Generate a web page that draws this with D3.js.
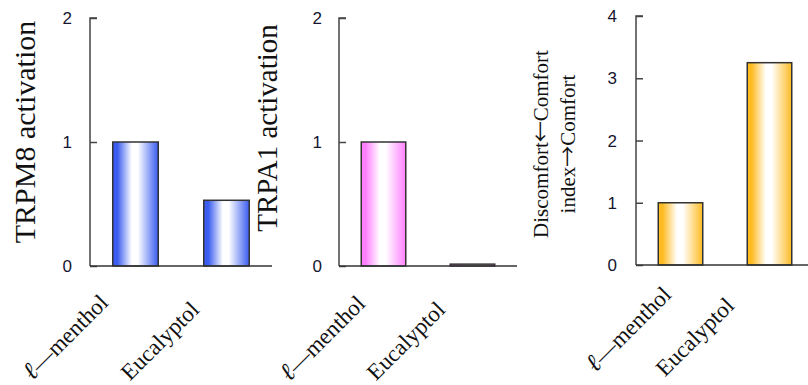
<!DOCTYPE html>
<html><head><meta charset="utf-8">
<script src="https://cdn.jsdelivr.net/npm/d3@7"></script>
<style>body{margin:0;background:#fff}svg{display:block}</style>
</head><body>
<svg id="chart" width="808" height="385"></svg>
<script>
const categories = ["ℓ—menthol", "Eucalyptol"];
const trpm8Values = [1, 0.53];
const trpa1Values = [1, 0.015];
const comfortValues = [1, 3.25];
const ticksActivation = [0, 1, 2];
const ticksComfort = [0, 1, 2, 3, 4];
const yTitles = [["TRPM8 activation"], ["TRPA1 activation"], ["Discomfort←Comfort", "index→Comfort"]];

const svg = d3.select("#chart");
const defs = svg.append("defs");

const panels = [
  {values: trpm8Values, ticks: ticksActivation, max: 2, x0: 90, x1: 272, line1: 272, y0: 266, y1: 18,
   color: "#3a5cf0", title: yTitles[0], titleSize: 30, titleX: [35], titleY: 132, tickOff: 18,
   labelDx: [-26, -26], labelY: [304, 311]},
  {values: trpa1Values, ticks: ticksActivation, max: 2, x0: 339, x1: 517, line1: 517, y0: 266, y1: 18,
   color: "#ff80ff", title: yTitles[1], titleSize: 29, titleX: [277], titleY: 128, tickOff: 17,
   labelDx: [-17, -26], labelY: [305, 311]},
  {values: comfortValues, ticks: ticksComfort, max: 4, x0: 636, x1: 814, line1: 808, y0: 265, y1: 16,
   color: "#ffbb22", title: yTitles[2], titleSize: 21, titleX: [548, 575], titleY: 144, tickOff: 19,
   labelDx: [-8, -34], labelY: [296, 307]}
];

const serif = "Liberation Serif, Times New Roman, serif";

function addRich(sel, text) {
  const parts = text.split(/([←→ℓ])/).filter(s => s.length);
  parts.forEach(s => {
    const t = sel.append("tspan").text(s);
    if (s === "←" || s === "→") t.attr("font-family", "Noto Sans CJK JP");
    if (s === "ℓ") t.attr("font-family", "DejaVu Serif").attr("font-style", "italic").attr("font-size", 25);
  });
}

panels.forEach((p, i) => {
  const gid = "grad" + i;
  const g = defs.append("linearGradient").attr("id", gid).attr("x1", "0%").attr("x2", "100%").attr("y1", "0%").attr("y2", "0%");
  g.append("stop").attr("offset", "0%").attr("stop-color", p.color);
  g.append("stop").attr("offset", "10%").attr("stop-color", p.color);
  g.append("stop").attr("offset", "42%").attr("stop-color", "#ffffff");
  g.append("stop").attr("offset", "55%").attr("stop-color", "#ffffff");
  g.append("stop").attr("offset", "100%").attr("stop-color", p.color);

  const x = d3.scaleBand().domain(categories).range([p.x0, p.x1]).paddingInner(0.5).paddingOuter(0.25);
  const y = d3.scaleLinear().domain([0, p.max]).range([p.y0, p.y1]);

  svg.append("g").selectAll("rect").data(categories).join("rect")
    .attr("x", d => x(d))
    .attr("width", x.bandwidth())
    .attr("y", (d, j) => y(p.values[j]))
    .attr("height", (d, j) => y(0) - y(p.values[j]))
    .attr("fill", `url(#${gid})`)
    .attr("stroke", "#333")
    .attr("stroke-width", 1.5);

  const yAxis = d3.axisRight(y).tickValues(p.ticks).tickSize(7).tickFormat("");
  const ga = svg.append("g").attr("transform", `translate(${p.x0},0)`).call(yAxis);
  ga.select(".domain").attr("d", `M7,${p.y1}H0V${p.y0}`).attr("stroke", "#444").attr("stroke-width", 1.5);
  ga.selectAll(".tick line").attr("stroke", "#444").attr("stroke-width", 1.5);

  svg.append("g").selectAll("text").data(p.ticks).join("text")
    .attr("x", p.x0 - p.tickOff)
    .attr("y", d => y(d))
    .attr("dy", "0.36em")
    .attr("text-anchor", "end")
    .attr("font-family", "Liberation Sans, Arial, sans-serif")
    .attr("font-size", 17)
    .attr("fill", "#151530")
    .text(d => d);

  svg.append("line").attr("x1", p.x0).attr("x2", p.line1).attr("y1", y(0)).attr("y2", y(0))
    .attr("stroke", "#333").attr("stroke-width", 1.5);

  svg.append("g").selectAll("text").data(categories).join("text")
    .attr("transform", (d, j) => `translate(${x(d) + x.bandwidth() / 2 + p.labelDx[j]},${p.labelY[j]}) rotate(-45)`)
    .attr("text-anchor", "end")
    .attr("font-family", serif)
    .attr("font-size", 23)
    .attr("fill", "#111")
    .each(function(d) { addRich(d3.select(this), d); });

  p.title.forEach((t, k) => {
    const tx = svg.append("text")
      .attr("transform", `translate(${p.titleX[k]},${p.titleY}) rotate(-90)`)
      .attr("text-anchor", "middle")
      .attr("font-family", serif)
      .attr("font-size", p.titleSize)
      .attr("fill", "#111");
    addRich(tx, t);
  });
});
</script>
</body></html>
